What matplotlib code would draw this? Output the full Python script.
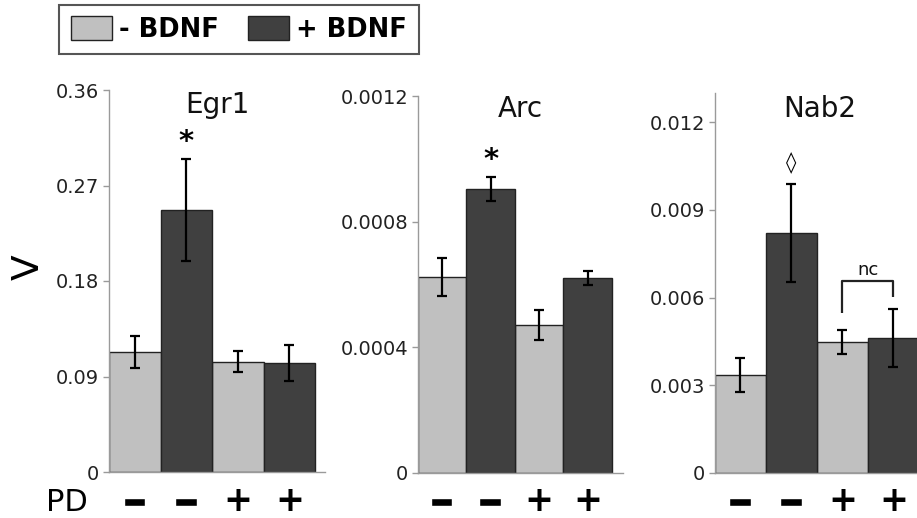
import matplotlib
matplotlib.use("Agg")
import matplotlib.pyplot as plt
import matplotlib.transforms as mtransforms
import matplotlib.patheffects as pe
from matplotlib.ticker import FixedLocator, FixedFormatter

# ---------------- data ----------------
genes = ["Egr1", "Arc", "Nab2"]
pd_signs = ["−", "−", "+", "+"]
legend_labels = ["- BDNF", "+ BDNF"]

egr1_vals = [0.113, 0.247, 0.104, 0.103]
egr1_errs = [0.015, 0.048, 0.010, 0.017]
arc_vals = [0.000624, 0.000904, 0.000471, 0.000621]
arc_errs = [0.000060, 0.000038, 0.000047, 0.000021]
nab2_vals = [0.00335, 0.0082, 0.00448, 0.00462]
nab2_errs = [0.00058, 0.00168, 0.00040, 0.00099]

egr1_ticks = [0, 0.09, 0.18, 0.27, 0.36]
egr1_ticklabels = ["0", "0.09", "0.18", "0.27", "0.36"]
arc_ticks = [0, 0.0004, 0.0008, 0.0012]
arc_ticklabels = ["0", "0.0004", "0.0008", "0.0012"]
nab2_ticks = [0, 0.003, 0.006, 0.009, 0.012]
nab2_ticklabels = ["0", "0.003", "0.006", "0.009", "0.012"]

# ---------------- style ----------------
W, H = 917, 518
LIGHT = "#c0c0c0"
DARK = "#404040"
EDGE = "#222222"
SPINE = "#9a9a9a"

fig = plt.figure(figsize=(W / 100, H / 100), dpi=100)

def px_axes(left, right, bottom, top):
    return fig.add_axes([left / W, 1 - bottom / H, (right - left) / W, (bottom - top) / H])

panels = [
    dict(rect=(109, 325, 472, 90), xlim=(-0.5, 3.69), ylim=(0, 0.36),
         vals=egr1_vals, errs=egr1_errs, ticks=egr1_ticks, labels=egr1_ticklabels,
         title_y=0.940),
    dict(rect=(418, 623, 473, 96), xlim=(-0.5, 3.73), ylim=(0, 0.0012),
         vals=arc_vals, errs=arc_errs, ticks=arc_ticks, labels=arc_ticklabels,
         title_y=0.944),
    dict(rect=(715, 924, 473, 93), xlim=(-0.5, 3.6), ylim=(0, 0.013),
         vals=nab2_vals, errs=nab2_errs, ticks=nab2_ticks, labels=nab2_ticklabels,
         title_y=0.937),
]

axes = []
bar_handles = None
for gene, p in zip(genes, panels):
    l, r, b, t = p["rect"]
    ax = px_axes(l, r, b, t)
    axes.append(ax)
    xs = [0, 1, 2, 3]
    light_x = [xs[0], xs[2]]
    dark_x = [xs[1], xs[3]]
    hl = ax.bar(light_x, [p["vals"][0], p["vals"][2]], width=1.0, color=LIGHT,
                edgecolor=EDGE, linewidth=1.0, label=legend_labels[0], zorder=2)
    hd = ax.bar(dark_x, [p["vals"][1], p["vals"][3]], width=1.0, color=DARK,
                edgecolor=EDGE, linewidth=1.0, label=legend_labels[1], zorder=2)
    ax.errorbar(xs, p["vals"], yerr=p["errs"], fmt="none", ecolor="black",
                elinewidth=1.6, capsize=3.8, capthick=1.6, zorder=3)
    if bar_handles is None:
        bar_handles = [hl, hd]
    ax.set_xlim(*p["xlim"])
    ax.set_ylim(*p["ylim"])
    for s in ("top", "right"):
        ax.spines[s].set_visible(False)
    for s in ("left", "bottom"):
        ax.spines[s].set_color(SPINE)
        ax.spines[s].set_linewidth(1.0)
    ax.yaxis.set_major_locator(FixedLocator(p["ticks"]))
    ax.yaxis.set_major_formatter(FixedFormatter(p["labels"]))
    ax.tick_params(axis="y", direction="out", length=4, width=1, color=SPINE,
                   labelsize=14, labelcolor="#222222", pad=3)
    ax.set_xticks([])
    ax.text(0.5, p["title_y"], gene, transform=ax.transAxes, ha="center",
            va="baseline", fontsize=20, color="#111111")
    # PD signs below bars
    trans = mtransforms.blended_transform_factory(ax.transData, fig.transFigure)
    for x, s in zip(xs, pd_signs):
        if s == "+":
            ax.text(x, 1 - 501 / H, s, transform=trans, ha="center", va="center",
                    fontsize=25, fontweight="bold", color="black", clip_on=False)
        else:
            ax.text(x, 1 - 504 / H, s, transform=trans, ha="center", va="center",
                    fontsize=19, fontweight="bold", color="black", clip_on=False,
                    path_effects=[pe.Stroke(linewidth=2.6, foreground="black",
                                            joinstyle="miter", capstyle="butt"),
                                  pe.Normal()])

# significance marks
axes[0].text(1, 0.311, "*", ha="center", va="center", fontsize=21,
             fontweight="bold", color="black")
axes[1].text(1, 0.000995, "*", ha="center", va="center", fontsize=21,
             fontweight="bold", color="black")
axes[2].text(1, 0.0106, "◊", ha="center", va="center", fontsize=15,
             color="black")
axes[2].plot([2, 2, 3, 3], [0.00547, 0.00656, 0.00656, 0.00602],
             color="#222222", linewidth=1.6, solid_capstyle="butt", zorder=4)
axes[2].text(2.5, 0.00694, "nc", ha="center", va="center", fontsize=13,
             color="#111111")

# y label and PD label
fig.text(29 / W, 1 - 267 / H, "V", rotation=90, ha="center", va="center",
         fontsize=27, color="black")
fig.text(67 / W, 1 - 511 / H, "PD", ha="center", va="baseline",
         fontsize=22, color="black")

# legend
leg = fig.legend(bar_handles, legend_labels, loc="center", ncol=2,
                 bbox_to_anchor=(239 / W, 1 - 29.5 / H),
                 prop={"weight": "bold", "size": 18.5},
                 handlelength=1.6, handleheight=1.05, handletextpad=0.3,
                 columnspacing=1.1, borderpad=0.45, fancybox=False,
                 framealpha=1, edgecolor="#555555")
leg.get_frame().set_linewidth(1.5)

fig.savefig("out.png", dpi=100)
